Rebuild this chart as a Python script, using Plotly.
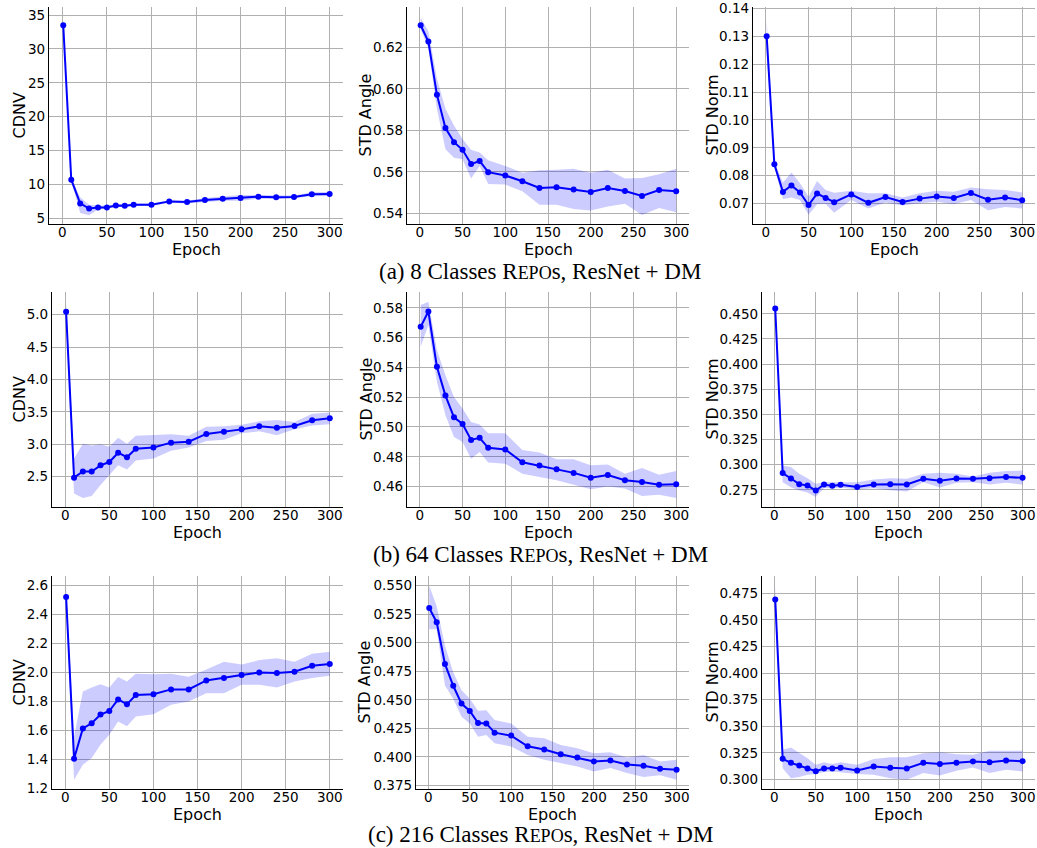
import plotly.graph_objects as go

W, H = 1037, 848

epochs = [1, 10, 20, 30, 40, 50, 60, 70, 80, 100, 120, 140, 160, 180, 200, 220, 240, 260, 280, 300]

# Row (a): 8 classes
cdnv8_mean = [33.5, 10.7, 7.2, 6.44, 6.6, 6.6, 6.9, 6.85, 7.0, 7.0, 7.5, 7.4, 7.7, 7.9, 8.0, 8.2, 8.1, 8.15, 8.55, 8.6]
cdnv8_up = [34.5, 10.9, 8.1, 7.0, 6.9, 6.9, 7.1, 7.05, 7.2, 7.2, 7.65, 7.6, 8.0, 8.2, 8.45, 8.45, 8.35, 8.35, 8.85, 8.9]
cdnv8_lo = [32.4, 10.5, 5.8, 5.45, 6.3, 6.4, 6.7, 6.65, 6.8, 6.8, 7.3, 7.2, 7.45, 7.6, 7.6, 7.9, 7.85, 7.95, 8.25, 8.3]

ang8_mean = [0.6307, 0.6228, 0.5972, 0.5811, 0.5743, 0.5706, 0.5637, 0.5652, 0.5598, 0.5582, 0.5554, 0.5522, 0.5525, 0.5515, 0.5502, 0.5522, 0.5507, 0.5483, 0.5512, 0.5506]
ang8_up = [0.6343, 0.6278, 0.605, 0.5904, 0.5823, 0.5758, 0.5706, 0.5693, 0.5655, 0.5628, 0.5595, 0.5607, 0.561, 0.5615, 0.5595, 0.561, 0.5567, 0.557, 0.5588, 0.5615]
ang8_lo = [0.6286, 0.6197, 0.5904, 0.5709, 0.5668, 0.566, 0.5567, 0.5628, 0.5541, 0.5538, 0.5506, 0.5441, 0.5441, 0.542, 0.5413, 0.5433, 0.5446, 0.5392, 0.5425, 0.5405]

norm8_mean = [0.130, 0.0841, 0.0742, 0.0765, 0.0740, 0.0695, 0.0736, 0.0720, 0.0705, 0.0733, 0.0703, 0.0724, 0.0706, 0.0718, 0.0726, 0.0720, 0.0738, 0.0714, 0.0722, 0.0712]
norm8_up = [0.136, 0.085, 0.0775, 0.0812, 0.0773, 0.0725, 0.0781, 0.0749, 0.0739, 0.0746, 0.0737, 0.0737, 0.0722, 0.0737, 0.0746, 0.0743, 0.0758, 0.0752, 0.0749, 0.0740]
norm8_lo = [0.124, 0.0832, 0.0717, 0.0722, 0.0713, 0.066, 0.0698, 0.0699, 0.0667, 0.0713, 0.0683, 0.0704, 0.0693, 0.0701, 0.0707, 0.0698, 0.0713, 0.0676, 0.0688, 0.0683]

# Row (b): 64 classes
cdnv64_mean = [5.046, 2.485, 2.58, 2.58, 2.675, 2.726, 2.87, 2.80, 2.93, 2.95, 3.025, 3.04, 3.16, 3.195, 3.23, 3.277, 3.256, 3.282, 3.37, 3.40]
cdnv64_up = [5.195, 2.78, 3.01, 2.98, 3.0, 2.96, 3.10, 3.01, 3.13, 3.14, 3.155, 3.13, 3.27, 3.28, 3.30, 3.354, 3.375, 3.344, 3.47, 3.49]
cdnv64_lo = [4.9, 2.24, 2.17, 2.20, 2.37, 2.53, 2.675, 2.61, 2.75, 2.78, 2.90, 2.95, 3.05, 3.07, 3.17, 3.20, 3.14, 3.23, 3.29, 3.31]

ang64_mean = [0.5672, 0.5775, 0.5404, 0.5211, 0.5065, 0.502, 0.4913, 0.4927, 0.486, 0.4849, 0.4763, 0.4741, 0.4716, 0.4692, 0.466, 0.4678, 0.4643, 0.4631, 0.4613, 0.4616]
ang64_up = [0.5818, 0.584, 0.5516, 0.5348, 0.5202, 0.5124, 0.5034, 0.5017, 0.4958, 0.4958, 0.4846, 0.4828, 0.4783, 0.4783, 0.4743, 0.4748, 0.4687, 0.4725, 0.468, 0.4705]
ang64_lo = [0.5538, 0.5684, 0.5303, 0.5079, 0.4933, 0.4899, 0.4787, 0.4832, 0.4761, 0.4754, 0.4687, 0.4664, 0.4642, 0.4613, 0.4582, 0.46, 0.4587, 0.4537, 0.4546, 0.4524]

norm64_mean = [0.4553, 0.2917, 0.2863, 0.2807, 0.2793, 0.2743, 0.2803, 0.279, 0.28, 0.278, 0.2803, 0.2807, 0.2803, 0.286, 0.284, 0.2863, 0.286, 0.2867, 0.2877, 0.287]
norm64_up = [0.462, 0.2993, 0.2977, 0.291, 0.2867, 0.281, 0.2827, 0.2827, 0.282, 0.2827, 0.2853, 0.2867, 0.286, 0.291, 0.292, 0.291, 0.2883, 0.292, 0.2937, 0.2943]
norm64_lo = [0.449, 0.2827, 0.2777, 0.2743, 0.2723, 0.268, 0.277, 0.2767, 0.2773, 0.2753, 0.2767, 0.2747, 0.2733, 0.2827, 0.2773, 0.282, 0.2827, 0.2803, 0.282, 0.2803]

# Row (c): 216 classes
cdnv216_mean = [2.522, 1.407, 1.616, 1.651, 1.711, 1.736, 1.816, 1.782, 1.846, 1.851, 1.885, 1.885, 1.947, 1.963, 1.984, 2.002, 1.998, 2.007, 2.048, 2.06]
cdnv216_up = [2.60, 1.56, 1.87, 1.898, 1.92, 1.898, 1.97, 1.94, 1.993, 1.989, 1.993, 1.973, 2.023, 2.076, 2.057, 2.087, 2.099, 2.076, 2.131, 2.145]
cdnv216_lo = [2.44, 1.262, 1.366, 1.412, 1.503, 1.572, 1.664, 1.63, 1.698, 1.714, 1.779, 1.802, 1.859, 1.859, 1.917, 1.917, 1.898, 1.94, 1.963, 1.979]

ang216_mean = [0.5305, 0.518, 0.4814, 0.4623, 0.4467, 0.4402, 0.4296, 0.4293, 0.4212, 0.4186, 0.4093, 0.4064, 0.4023, 0.3994, 0.396, 0.3968, 0.3933, 0.3922, 0.3896, 0.3887]
ang216_up = [0.550, 0.532, 0.4973, 0.4742, 0.4583, 0.451, 0.4403, 0.4409, 0.4322, 0.4293, 0.4177, 0.4162, 0.4104, 0.4075, 0.4032, 0.404, 0.3994, 0.4017, 0.396, 0.3974]
ang216_lo = [0.5118, 0.5118, 0.4626, 0.451, 0.4351, 0.4293, 0.4177, 0.4191, 0.4119, 0.409, 0.4017, 0.3974, 0.3945, 0.3916, 0.3872, 0.3901, 0.3858, 0.3823, 0.3838, 0.38]

norm216_mean = [0.4691, 0.3194, 0.3156, 0.3131, 0.3103, 0.3078, 0.3103, 0.3103, 0.3109, 0.3084, 0.3122, 0.3109, 0.3103, 0.3156, 0.3144, 0.3156, 0.3169, 0.3162, 0.3178, 0.3172]
norm216_up = [0.4822, 0.3278, 0.33, 0.3247, 0.32, 0.3137, 0.3162, 0.3144, 0.3162, 0.3137, 0.3191, 0.3209, 0.3209, 0.3247, 0.3256, 0.3237, 0.3231, 0.3269, 0.3269, 0.3269]
norm216_lo = [0.456, 0.3106, 0.3012, 0.3022, 0.3044, 0.305, 0.3069, 0.3075, 0.3069, 0.305, 0.3044, 0.3012, 0.2997, 0.306, 0.3037, 0.3081, 0.3112, 0.306, 0.3091, 0.3075]

y_titles = ["CDNV", "STD Angle", "STD Norm"]
x_title = "Epoch"
captions = [
    ("(a) 8 Classes R", "EPO", "s, ResNet + DM"),
    ("(b) 64 Classes R", "EPO", "s, ResNet + DM"),
    ("(c) 216 Classes R", "EPO", "s, ResNet + DM"),
]

panels = [
    [(cdnv8_mean, cdnv8_up, cdnv8_lo), (ang8_mean, ang8_up, ang8_lo), (norm8_mean, norm8_up, norm8_lo)],
    [(cdnv64_mean, cdnv64_up, cdnv64_lo), (ang64_mean, ang64_up, ang64_lo), (norm64_mean, norm64_up, norm64_lo)],
    [(cdnv216_mean, cdnv216_up, cdnv216_lo), (ang216_mean, ang216_up, ang216_lo), (norm216_mean, norm216_up, norm216_lo)],
]

# layout (pixels) and axis styles
row_px = [(7, 224), (292, 507), (576, 789)]
col_px = [
    [(49, 343), (407, 689), (753, 1035)],
    [(52, 343), (407, 689), (762, 1035)],
    [(52, 343), (416, 689), (762, 1035)],
]
ytitle_x = [
    [19, 365, 712],
    [19, 366, 712],
    [19, 364, 712],
]
xtitle_y = [249, 532, 814]
y_ranges = [
    [(4.16, 36.2), (0.5348, 0.6395), (0.0627, 0.1405)],
    [(2.032, 5.35), (0.4463, 0.5906), (0.258, 0.4717)],
    [(1.198, 2.667), (0.3718, 0.5585), (0.291, 0.4913)],
]
y_ticks = [
    [(5, 5, "d"), (0.54, 0.02, ".2f"), (0.07, 0.01, ".2f")],
    [(2.5, 0.5, ".1f"), (0.46, 0.02, ".2f"), (0.275, 0.025, ".3f")],
    [(1.2, 0.2, ".1f"), (0.375, 0.025, ".3f"), (0.300, 0.025, ".3f")],
]
caption_y = [272, 554, 834]

fig = go.Figure()
tick_font = dict(family="DejaVu Sans", size=13.5, color="black")
title_font = dict(family="DejaVu Sans", size=16, color="black")
layout_axes = {}
annotations = []

for r in range(3):
    for c in range(3):
        k = r * 3 + c + 1
        xa = "x" if k == 1 else f"x{k}"
        ya = "y" if k == 1 else f"y{k}"
        mean, up, lo = panels[r][c]
        fig.add_trace(go.Scatter(
            x=epochs + epochs[::-1], y=up + lo[::-1], fill="toself",
            fillcolor="rgba(0,0,255,0.2)", line=dict(width=0), mode="lines",
            hoverinfo="skip", showlegend=False, xaxis=xa, yaxis=ya))
        fig.add_trace(go.Scatter(
            x=epochs, y=mean, mode="lines+markers",
            line=dict(color="#0000ff", width=2), marker=dict(color="#0000ff", size=6),
            showlegend=False, xaxis=xa, yaxis=ya))
        x0, x1 = col_px[r][c]
        t, b = row_px[r]
        t0, dt, fmt = y_ticks[r][c]
        layout_axes[f"xaxis{'' if k == 1 else k}"] = dict(
            domain=[x0 / W, x1 / W], anchor=ya, range=[-15, 315],
            tick0=0, dtick=50, showgrid=True, gridcolor="#b0b0b0", gridwidth=1.2,
            showline=True, linecolor="black", linewidth=1.3, zeroline=False,
            ticks="", ticklabelstandoff=-4, tickfont=tick_font, automargin=False)
        layout_axes[f"yaxis{'' if k == 1 else k}"] = dict(
            domain=[1 - b / H, 1 - t / H], anchor=xa, range=list(y_ranges[r][c]),
            tick0=t0, dtick=dt, tickformat=fmt, showgrid=True, gridcolor="#b0b0b0",
            gridwidth=1.2, showline=True, linecolor="black", linewidth=1.3,
            zeroline=False, ticks="", tickfont=tick_font, automargin=False)
        # axis titles
        annotations.append(dict(
            x=(x0 + x1) / 2 / W, y=1 - xtitle_y[r] / H, xref="paper", yref="paper",
            xanchor="center", yanchor="middle", showarrow=False,
            text=x_title, font=title_font))
        annotations.append(dict(
            x=ytitle_x[r][c] / W, y=1 - (t + b) / 2 / H, xref="paper", yref="paper",
            xanchor="center", yanchor="middle", showarrow=False, textangle=-90,
            text=y_titles[c], font=title_font))

for r in range(3):
    a, sc, rest = captions[r]
    annotations.append(dict(
        x=540 / W, y=1 - caption_y[r] / H, xref="paper", yref="paper",
        xanchor="center", yanchor="middle", showarrow=False,
        text=f"{a}<span style='font-size:18px'>{sc}</span>{rest}",
        font=dict(family="Liberation Serif", size=23, color="black")))

fig.update_layout(
    width=W, height=H, margin=dict(l=0, r=0, t=0, b=0),
    paper_bgcolor="white", plot_bgcolor="white",
    annotations=annotations, **layout_axes)

fig.write_html("out.html", config={"displayModeBar": False},
               post_script="document.body.style.margin='0';document.body.style.overflow='hidden';")
